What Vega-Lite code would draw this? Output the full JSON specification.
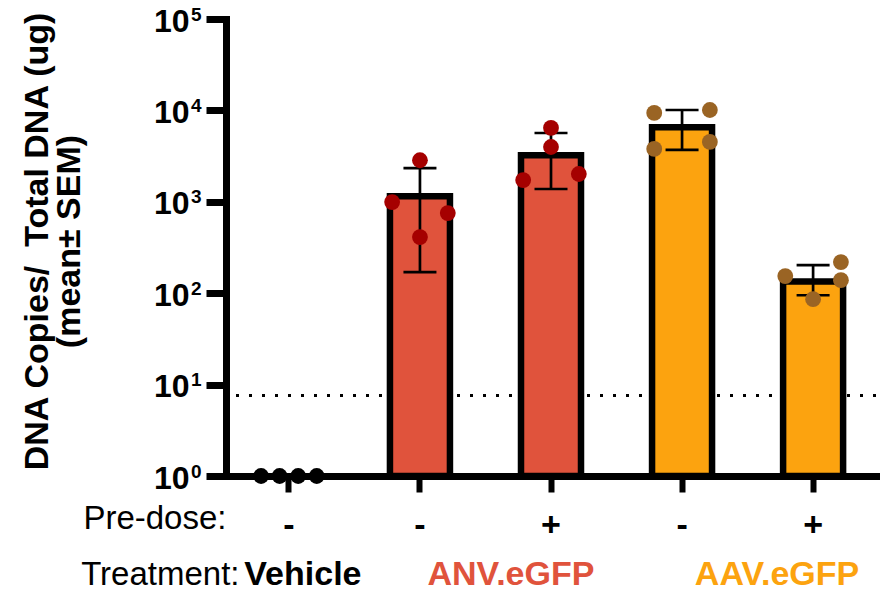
{
  "$schema": "https://vega.github.io/schema/vega-lite/v6.json",
  "width": 650,
  "height": 457,
  "autosize": {"type": "none"},
  "padding": {"left": 226, "top": 19, "right": 8, "bottom": 114},
  "config": {"font": "Liberation Sans", "view": {"stroke": null}, "axis": {"grid": false}},
  "datasets": {
    "summary": [
      {"cat": "ANV.eGFP -", "grp": "ANV", "mean": 1150, "lo": 170, "hi": 2340},
      {"cat": "ANV.eGFP +", "grp": "ANV", "mean": 3230, "lo": 1380, "hi": 5660},
      {"cat": "AAV.eGFP -", "grp": "AAV", "mean": 6550, "lo": 3690, "hi": 10100},
      {"cat": "AAV.eGFP +", "grp": "AAV", "mean": 134, "lo": 95, "hi": 203}
    ],
    "points": [
      {"cat": "Vehicle", "grp": "Vehicle", "slot": "s1", "val": 1},
      {"cat": "Vehicle", "grp": "Vehicle", "slot": "s3", "val": 1},
      {"cat": "Vehicle", "grp": "Vehicle", "slot": "s5", "val": 1},
      {"cat": "Vehicle", "grp": "Vehicle", "slot": "s7", "val": 1},
      {"cat": "ANV.eGFP -", "grp": "ANV", "slot": "s4", "val": 2850},
      {"cat": "ANV.eGFP -", "grp": "ANV", "slot": "s1", "val": 994},
      {"cat": "ANV.eGFP -", "grp": "ANV", "slot": "s7", "val": 753},
      {"cat": "ANV.eGFP -", "grp": "ANV", "slot": "s4", "val": 411},
      {"cat": "ANV.eGFP +", "grp": "ANV", "slot": "s4", "val": 6430},
      {"cat": "ANV.eGFP +", "grp": "ANV", "slot": "s4", "val": 3980},
      {"cat": "ANV.eGFP +", "grp": "ANV", "slot": "s1", "val": 1730},
      {"cat": "ANV.eGFP +", "grp": "ANV", "slot": "s7", "val": 2015},
      {"cat": "AAV.eGFP -", "grp": "AAV", "slot": "s1", "val": 9390},
      {"cat": "AAV.eGFP -", "grp": "AAV", "slot": "s7", "val": 10100},
      {"cat": "AAV.eGFP -", "grp": "AAV", "slot": "s1", "val": 3785},
      {"cat": "AAV.eGFP -", "grp": "AAV", "slot": "s7", "val": 4520},
      {"cat": "AAV.eGFP +", "grp": "AAV", "slot": "s1", "val": 154},
      {"cat": "AAV.eGFP +", "grp": "AAV", "slot": "s7", "val": 219},
      {"cat": "AAV.eGFP +", "grp": "AAV", "slot": "s7", "val": 139},
      {"cat": "AAV.eGFP +", "grp": "AAV", "slot": "s4", "val": 86}
    ]
  },
  "resolve": {"axis": {"x": "independent", "y": "independent"}},
  "layer": [
    {
      "data": {"values": [{"lod": 7.6}]},
      "mark": {"type": "rule", "strokeDash": [3, 10], "strokeWidth": 3, "color": "black"},
      "encoding": {
        "y": {"field": "lod", "type": "quantitative", "axis": null}
      }
    },
    {
      "data": {"name": "summary"},
      "mark": {"type": "bar", "stroke": "black", "strokeWidth": 6.5, "opacity": 1, "width": 60},
      "encoding": {
        "x": {
          "field": "cat", "type": "nominal", "sort": null,
          "scale": {"domain": ["Vehicle", "ANV.eGFP -", "ANV.eGFP +", "AAV.eGFP -", "AAV.eGFP +"], "paddingInner": 0.54, "paddingOuter": 0.25},
          "axis": {
            "orient": "bottom",
            "title": "Pre-dose:", "titleX": 0, "titleY": 52, "titleAlign": "right", "titleBaseline": "alphabetic",
            "titleFontSize": 33, "titleFontWeight": "normal", "titleColor": "black",
            "labelExpr": "indexof(datum.value, '+') >= 0 ? '+' : '-'",
            "labelAngle": 0, "labelFontSize": 34, "labelFontWeight": "bold", "labelColor": "black",
            "labelBaseline": "alphabetic", "labelPadding": 43, "labelOverlap": false,
            "tickSize": 16, "tickWidth": 6, "tickColor": "black",
            "domainColor": "black", "domainWidth": 7, "domainCap": "square"
          }
        },
        "y": {
          "field": "mean", "type": "quantitative",
          "scale": {"type": "log", "domain": [1, 100000], "nice": false},
          "axis": {
            "orient": "left",
            "title": ["DNA Copies/\u00a0 Total DNA (ug)", "(mean± SEM)\u00a0\u00a0\u00a0\u00a0\u00a0"],
            "titleFontSize": 34, "titleFontWeight": "bold", "titleColor": "black",
            "titleAngle": -90, "titleX": -179, "titleY": 222, "titleAlign": "center", "titleBaseline": "alphabetic", "titleLineHeight": 32,
            "values": [1, 10, 100, 1000, 10000, 100000],
            "labelExpr": "'10'",
            "labelFontSize": 32, "labelFontWeight": "bold", "labelColor": "black",
            "labelPadding": 17, "labelOffset": 2, "labelBaseline": "middle", "labelOverlap": false, "labelFlush": false,
            "tickSize": 20, "tickWidth": 7, "tickColor": "black",
            "domainColor": "black", "domainWidth": 7, "domainCap": "square"
          }
        },
        "y2": {"datum": 1},
        "fill": {"field": "grp", "type": "nominal", "scale": {"domain": ["ANV", "AAV"], "range": ["#E0533C", "#FCA30F"]}, "legend": null}
      }
    },
    {
      "data": {"name": "summary"},
      "mark": {"type": "rule", "strokeWidth": 2.7, "color": "black"},
      "encoding": {
        "x": {
          "field": "cat", "type": "nominal", "sort": null,
          "axis": {
            "orient": "bottom",
            "title": "Treatment:", "titleX": 13, "titleY": 108, "titleAlign": "right", "titleBaseline": "alphabetic",
            "titleFontSize": 33, "titleFontWeight": "normal", "titleColor": "black",
            "domain": false, "tickSize": 16, "tickOpacity": 0,
            "labelExpr": "datum.value === 'Vehicle' ? 'Vehicle' : (datum.value === 'ANV.eGFP -' ? 'ANV.eGFP' : (datum.value === 'AAV.eGFP -' ? 'AAV.eGFP' : ''))",
            "labelAngle": 0, "labelFontSize": 34, "labelFontWeight": "bold",
            "labelColor": {"condition": [{"test": "datum.value === 'ANV.eGFP -'", "value": "#E0533C"}, {"test": "datum.value === 'AAV.eGFP -'", "value": "#FCA30F"}], "value": "black"},
            "labelOffset": {"condition": [{"test": "datum.value === 'Vehicle'", "value": 14}, {"test": "datum.value === 'ANV.eGFP -'", "value": 91}], "value": 95},
            "labelBaseline": "alphabetic", "labelPadding": 92, "labelOverlap": false, "labelLimit": 500
          }
        },
        "y": {
          "field": "lo", "type": "quantitative",
          "axis": {
            "orient": "left", "title": null, "domain": false, "tickSize": 20, "tickOpacity": 0,
            "values": [1, 10, 100, 1000, 10000, 100000],
            "labelExpr": "'' + round(log(datum.value) / LN10)",
            "labelFontSize": 19, "labelFontWeight": "bold", "labelColor": "black",
            "labelPadding": 5, "labelOffset": -5, "labelBaseline": "middle", "labelOverlap": false, "labelFlush": false
          }
        },
        "y2": {"field": "hi"}
      }
    },
    {
      "data": {"name": "summary"},
      "mark": {"type": "tick", "orient": "horizontal", "size": 33, "thickness": 2.7, "color": "black", "opacity": 1},
      "encoding": {
        "x": {"field": "cat", "type": "nominal", "sort": null, "axis": null},
        "y": {"field": "hi", "type": "quantitative", "axis": null}
      }
    },
    {
      "data": {"name": "summary"},
      "mark": {"type": "tick", "orient": "horizontal", "size": 33, "thickness": 2.7, "color": "black", "opacity": 1},
      "encoding": {
        "x": {"field": "cat", "type": "nominal", "sort": null, "axis": null},
        "y": {"field": "lo", "type": "quantitative", "axis": null}
      }
    },
    {
      "data": {"name": "points"},
      "mark": {"type": "circle", "size": 250, "opacity": 1},
      "encoding": {
        "x": {"field": "cat", "type": "nominal", "sort": null, "axis": null},
        "xOffset": {"field": "slot", "type": "nominal", "scale": {"domain": ["s1", "s2", "s3", "s4", "s5", "s6", "s7"], "paddingInner": 0, "paddingOuter": 0.25}},
        "y": {"field": "val", "type": "quantitative", "axis": null},
        "color": {"field": "grp", "type": "nominal", "scale": {"domain": ["Vehicle", "ANV", "AAV"], "range": ["black", "#A50000", "#9A6424"]}, "legend": null}
      }
    }
  ]
}
